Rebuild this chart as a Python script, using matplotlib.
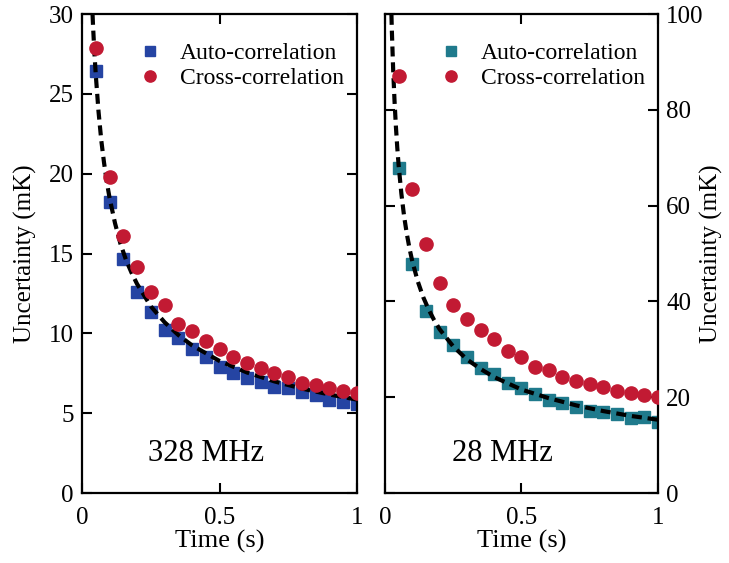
import matplotlib
matplotlib.use("Agg")
import matplotlib.pyplot as plt

plt.rcParams['font.family'] = ['Liberation Serif', 'DejaVu Serif']
plt.rcParams['mathtext.fontset'] = 'stix'

# Sample times (s)
time_s = [0.05, 0.10, 0.15, 0.20, 0.25, 0.30, 0.35, 0.40, 0.45, 0.50,
          0.55, 0.60, 0.65, 0.70, 0.75, 0.80, 0.85, 0.90, 0.95, 1.00]

# 328 MHz (mK)
auto_328 = [26.4, 18.2, 14.65, 12.6, 11.35, 10.2, 9.7, 9.0, 8.5, 7.9,
            7.5, 7.2, 6.95, 6.65, 6.55, 6.3, 6.15, 5.85, 5.7, 5.55]
cross_328 = [27.9, 19.8, 16.1, 14.15, 12.6, 11.8, 10.6, 10.15, 9.55, 9.05,
             8.5, 8.15, 7.85, 7.5, 7.25, 6.9, 6.75, 6.55, 6.4, 6.25]

# 28 MHz (mK)
auto_28 = [67.8, 47.8, 37.9, 33.7, 30.9, 28.3, 26.2, 24.8, 22.9, 22.0,
           20.6, 19.4, 18.85, 18.0, 17.1, 17.0, 16.4, 15.6, 15.8, 14.9]
cross_28 = [87.1, 63.4, 51.9, 43.9, 39.25, 36.3, 34.0, 32.1, 29.7, 28.3,
            26.4, 25.7, 24.3, 23.4, 22.75, 22.2, 21.4, 20.8, 20.5, 20.1]

# Dashed theory curve
curve_t = [0.02, 0.025, 0.03, 0.035, 0.04, 0.045, 0.05, 0.06, 0.07, 0.08, 0.09,
           0.10, 0.12, 0.14, 0.16, 0.18, 0.20, 0.25, 0.30, 0.35, 0.40, 0.50,
           0.60, 0.70, 0.80, 0.90, 1.00]
curve_328 = [41.4, 37.0, 33.8, 31.3, 29.3, 27.6, 26.2, 23.9, 22.1, 20.7, 19.5,
             18.5, 16.9, 15.6, 14.6, 13.8, 13.1, 11.7, 10.7, 9.9, 9.25, 8.27,
             7.55, 6.99, 6.54, 6.17, 5.85]
curve_28 = [108.2, 96.8, 88.3, 81.8, 76.5, 72.1, 68.4, 62.5, 57.8, 54.1, 51.0,
            48.4, 44.2, 40.9, 38.3, 36.1, 34.2, 30.6, 27.9, 25.9, 24.2, 21.6,
            19.8, 18.3, 17.1, 16.1, 15.3]

panel_labels = ["328 MHz", "28 MHz"]
y_limits = [30, 100]
y_ticks = [[0, 5, 10, 15, 20, 25, 30], [0, 20, 40, 60, 80, 100]]
x_ticks = [0, 0.5, 1]
x_ticklabels = ["0", "0.5", "1"]

auto_colors = ["#2544a3", "#1f7a8c"]
cross_color = "#c21a33"

fig = plt.figure(figsize=(7.29, 5.63), dpi=100)
ax1 = fig.add_axes([0.1125, 0.1243, 0.3772, 0.8508])
ax2 = fig.add_axes([0.5281, 0.1243, 0.3745, 0.8508])

datasets = [(ax1, auto_328, cross_328, curve_328), (ax2, auto_28, cross_28, curve_28)]
for i, (ax, auto, cross, curve) in enumerate(datasets):
    ax.plot(time_s, auto, linestyle='none', marker='s', markersize=8.5,
            color=auto_colors[i], label='Auto-correlation', zorder=2)
    ax.plot(curve_t, curve, linestyle=(0, (2.4, 1.4)), color='black', lw=3.0, zorder=3)
    ax.plot(time_s, cross, linestyle='none', marker='o', markersize=9.5,
            color=cross_color, label='Cross-correlation', zorder=4)
    ax.set_xlim(0, 1)
    ax.set_ylim(0, y_limits[i])
    ax.set_xticks(x_ticks)
    ax.set_xticklabels(x_ticklabels)
    ax.set_yticks(y_ticks[i])
    ax.tick_params(direction='in', length=7, width=1.5, labelsize=18,
                   top=True, right=True, bottom=True, left=True, pad=6)
    ax.tick_params(axis='x', pad=10)
    for sp in ax.spines.values():
        sp.set_linewidth(1.6)
    ax.set_xlabel('Time (s)', fontsize=19, labelpad=1)
    ax.set_ylabel('Uncertainty (mK)', fontsize=18)
    ax.text(0.45 if i == 0 else 0.43, 0.083, panel_labels[i], transform=ax.transAxes,
            fontsize=22, ha='center', va='center')
    ax.legend(loc='upper right', bbox_to_anchor=(1.03, 0.985), frameon=False,
              fontsize=17, handletextpad=0.75, labelspacing=0.15, handlelength=1.0,
              markerscale=0.85)

ax1.yaxis.set_label_coords(-0.165, 0.5)
ax2.yaxis.set_label_position('right')
ax2.yaxis.set_label_coords(1.155, 0.5)
ax2.tick_params(labelleft=False, labelright=True)

fig.savefig('out.png', dpi=100)
